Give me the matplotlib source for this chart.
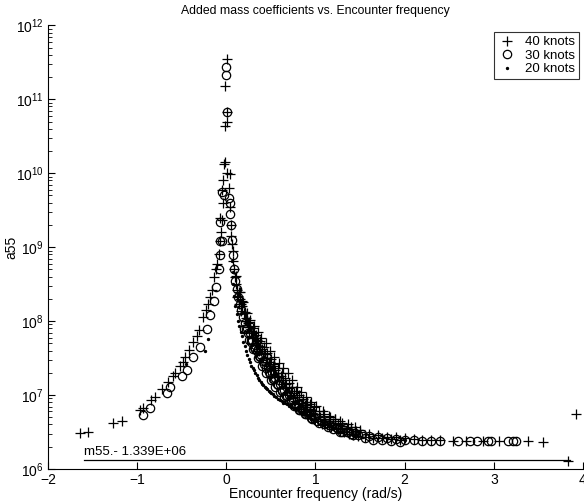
import matplotlib
matplotlib.use("Agg")
import matplotlib.pyplot as plt
from matplotlib.ticker import LogLocator, FixedLocator, NullFormatter

plt.rcParams['font.family'] = ['Liberation Sans', 'DejaVu Sans']
plt.rcParams['mathtext.fontset'] = 'custom'
plt.rcParams['mathtext.rm'] = 'Liberation Sans'
plt.rcParams['mathtext.it'] = 'Liberation Sans:italic'

title = "Added mass coefficients vs. Encounter frequency"
xlabel = "Encounter frequency (rad/s)"
ylabel = "a55"
series_labels = ["40 knots", "30 knots", "20 knots"]
m55_value = 1.339e6
m55_label = "m55.- 1.339E+06"
m55_x = [-1.6, 3.85]

# 40 knots (+)
x40 = [-1.64, -1.55, -1.27, -1.17, -0.97, -0.94, -0.85, -0.80, -0.72, -0.65, -0.60,
       -0.57, -0.52, -0.49, -0.46, -0.42, -0.37, -0.33, -0.31, -0.26, -0.23, -0.20,
       -0.18, -0.16, -0.135, -0.12, -0.105, -0.087, -0.067, -0.06, -0.049, -0.04, -0.03,
       0.005, -0.01, 0.005, -0.01, 0.005, -0.02, 0.005, 0.045, -0.037, -0.05, -0.07,
       0.03, 0.04, 0.05, 0.055, 0.06, 0.07, 0.08, 0.09, 0.10, 0.11, 0.12, 0.135, 0.15,
       0.165, 0.18, 0.20, 0.22, 0.24, 0.26, 0.28, 0.30, 0.32, 0.34, 0.36, 0.38, 0.40,
       0.43, 0.46, 0.49, 0.52, 0.55, 0.58, 0.61, 0.64, 0.67, 0.70, 0.73, 0.76, 0.79,
       0.82, 0.85, 0.88, 0.91, 0.94, 0.97, 1.00, 1.05, 1.10, 1.15, 1.20, 1.25, 1.30,
       1.35, 1.40, 1.45, 1.50, 1.60, 1.70, 1.80, 1.90, 2.00, 2.10, 2.20, 2.30, 2.40,
       2.54, 2.69, 2.88, 3.06, 3.38, 3.55, 3.83, 3.92,
       0.15, 0.19, 0.23, 0.27, 0.31, 0.35, 0.39, 0.44, 0.49, 0.54, 0.59, 0.64, 0.69,
       0.74, 0.79, 0.84, 0.89, 0.95, 1.01, 1.08, 1.15, 1.22, 1.30, 1.40, 1.50,
       0.125, 0.145, 0.17, 0.21, 0.25, 0.29, 0.33, 0.37, 0.415, 0.445, 0.475, 0.505,
       0.535, 0.565, 0.595, 0.625, 0.655, 0.685, 0.715, 0.745, 0.775, 0.805, 0.835,
       0.865, 0.895, 0.925, 0.955, 0.985, 1.025, 1.075, 1.125, 1.175, 1.225, 1.275,
       1.325, 1.375, 1.425, 1.475, 1.55, 1.65, 1.75, 1.85, 1.95,
       0.105, 0.14, 0.175, 0.215, 0.255, 0.295, 0.335, 0.375, 0.42, 0.46, 0.50, 0.54,
       0.58, 0.62, 0.66, 0.70, 0.74, 0.78, 0.82, 0.86, 0.90, 0.94, 0.98, 1.04, 1.10,
       1.16, 1.22, 1.28, 1.36, 1.44]
y40 = [3.1e6, 3.2e6, 4.2e6, 4.5e6, 6.2e6, 6.6e6, 8.5e6, 9.5e6, 1.2e7, 1.5e7, 1.8e7,
       2.0e7, 2.5e7, 2.8e7, 3.3e7, 4.1e7, 5.2e7, 6.3e7, 7.6e7, 1.15e8, 1.4e8, 1.7e8,
       2.1e8, 2.6e8, 4.0e8, 5.0e8, 6.0e8, 8.1e8, 1.2e9, 1.6e9, 2.3e9, 4.0e9, 1.35e10,
       3.5e11, 1.5e11, 4.9e10, 4.4e10, 6.8e10, 1.4e10, 1.0e10, 9.8e9, 8.1e9, 5.9e9, 2.5e9,
       6.3e9, 3.5e9, 2.0e9, 1.4e9, 1.1e9, 8.9e8, 6.6e8, 5.0e8, 4.0e8, 3.2e8, 2.6e8, 2.2e8, 2.0e8,
       1.7e8, 1.6e8, 1.3e8, 1.1e8, 9.5e7, 8.3e7, 7.4e7, 6.8e7, 6.0e7, 5.5e7, 5.0e7, 4.6e7, 4.2e7,
       3.6e7, 3.2e7, 2.8e7, 2.5e7, 2.2e7, 2.0e7, 1.8e7, 1.6e7, 1.4e7, 1.26e7, 1.15e7, 1.05e7, 9.5e6,
       8.7e6, 7.9e6, 7.4e6, 6.9e6, 6.5e6, 6.0e6, 5.6e6, 5.1e6, 4.8e6, 4.5e6, 4.2e6, 4.0e6, 3.8e6,
       3.6e6, 3.5e6, 3.3e6, 3.2e6, 3.0e6, 2.9e6, 2.75e6, 2.7e6, 2.6e6, 2.55e6, 2.5e6, 2.45e6, 2.45e6,
       2.4e6, 2.4e6, 2.4e6, 2.4e6, 2.4e6, 2.3e6, 1.3e6, 5.5e6,
       2.5e8, 1.8e8, 1.3e8, 1.05e8, 8.5e7, 7.1e7, 6.0e7, 5.0e7, 4.0e7, 3.3e7, 2.75e7, 2.3e7, 2.0e7,
       1.6e7, 1.3e7, 1.1e7, 9.5e6, 8.1e6, 7.1e6, 6.0e6, 5.2e6, 4.7e6, 4.2e6, 3.7e6, 3.4e6,
       2.1e8, 1.7e8, 1.37e8, 1.0e8, 7.4e7, 5.9e7, 4.8e7, 4.0e7, 3.2e7, 2.8e7, 2.5e7, 2.2e7,
       1.95e7, 1.75e7, 1.58e7, 1.41e7, 1.25e7, 1.1e7, 1.0e7, 9.1e6, 8.3e6, 7.6e6, 6.9e6,
       6.4e6, 5.9e6, 5.6e6, 5.2e6, 4.8e6, 4.5e6, 4.1e6, 3.9e6, 3.65e6, 3.45e6, 3.3e6,
       3.15e6, 3.0e6, 2.9e6, 2.8e6, 2.75e6, 2.65e6, 2.6e6, 2.55e6, 2.5e6,
       4.1e8, 2.5e8, 1.86e8, 1.32e8, 9.8e7, 8.0e7, 6.4e7, 5.4e7, 4.4e7, 3.7e7, 3.1e7, 2.65e7,
       2.3e7, 2.0e7, 1.7e7, 1.45e7, 1.29e7, 1.13e7, 1.0e7, 8.9e6, 8.1e6, 7.5e6, 6.8e6, 6.0e6, 5.5e6,
       5.1e6, 4.7e6, 4.4e6, 4.0e6, 3.7e6]

# 30 knots (o)
x30 = [-0.93, -0.86, -0.67, -0.63, -0.50, -0.44, -0.37, -0.29, -0.217, -0.18, -0.14,
       -0.12, -0.087, -0.067, -0.049, -0.067, -0.067, -0.05,
       0.0, 0.0, 0.005, -0.03, 0.026,
       0.04, 0.045, 0.05, 0.06, 0.07, 0.085, 0.10, 0.115, 0.13, 0.15, 0.17, 0.19, 0.21,
       0.23, 0.26, 0.29, 0.32, 0.35, 0.39, 0.43, 0.47, 0.51, 0.55, 0.60, 0.65, 0.70,
       0.75, 0.80, 0.85, 0.90, 0.95, 1.00, 1.06, 1.12, 1.18, 1.24, 1.30, 1.37, 1.44,
       1.52, 1.60, 1.70, 1.80, 1.90, 2.00, 2.10, 2.20, 2.30, 2.40, 2.60, 2.73, 2.81,
       2.93, 2.97, 3.16, 3.21, 3.25,
       0.20, 0.25, 0.30, 0.35, 0.40, 0.45, 0.50, 0.55, 0.60, 0.65, 0.70, 0.76, 0.82,
       0.88, 0.95, 1.02, 1.10, 1.20, 1.30, 1.40,
       0.22, 0.275, 0.325, 0.375, 0.425, 0.475, 0.525, 0.575, 0.625, 0.675, 0.725,
       0.785, 0.85, 0.915, 0.985, 1.06, 1.15, 1.25, 1.35, 1.48,
       0.24, 0.28, 0.31, 0.34, 0.37, 0.41, 0.45, 0.49, 0.53, 0.57, 0.62, 0.67, 0.72,
       0.77, 0.83, 0.89, 0.96, 1.04, 1.14, 1.27, 1.42, 1.56, 1.65, 1.75, 1.85, 1.95]
y30 = [5.4e6, 6.6e6, 1.05e7, 1.3e7, 1.8e7, 2.2e7, 3.3e7, 4.5e7, 7.9e7, 1.2e8, 1.9e8,
       2.9e8, 5.1e8, 7.8e8, 1.2e9, 1.2e9, 2.2e9, 5.6e9,
       2.75e11, 2.1e11, 6.8e10, 5.0e9, 4.6e9,
       4.0e9, 2.8e9, 2.0e9, 1.26e9, 7.9e8, 5.0e8, 3.5e8, 2.7e8, 2.1e8, 1.7e8, 1.4e8, 1.15e8, 9.5e7,
       8.1e7, 6.8e7, 5.6e7, 4.8e7, 4.2e7, 3.5e7, 2.9e7, 2.4e7, 2.0e7, 1.7e7, 1.4e7, 1.17e7, 1.0e7,
       8.7e6, 7.6e6, 6.8e6, 6.0e6, 5.5e6, 5.0e6, 4.6e6, 4.2e6, 3.9e6, 3.6e6, 3.5e6, 3.2e6, 3.1e6,
       2.95e6, 2.8e6, 2.7e6, 2.6e6, 2.55e6, 2.5e6, 2.45e6, 2.42e6, 2.4e6, 2.4e6, 2.4e6, 2.4e6, 2.4e6,
       2.4e6, 2.4e6, 2.4e6, 2.4e6, 2.4e6,
       7.9e7, 5.6e7, 4.2e7, 3.2e7, 2.5e7, 2.0e7, 1.6e7, 1.3e7, 1.1e7, 9.5e6, 8.3e6, 7.1e6, 6.2e6,
       5.5e6, 4.9e6, 4.4e6, 4.0e6, 3.5e6, 3.2e6, 3.0e6,
       7.8e7, 5.5e7, 4.2e7, 3.3e7, 2.6e7, 2.05e7, 1.65e7, 1.37e7, 1.14e7, 9.8e6, 8.5e6,
       7.2e6, 6.3e6, 5.55e6, 4.85e6, 4.4e6, 3.9e6, 3.45e6, 3.2e6, 2.9e6,
       6.9e7, 5.3e7, 4.5e7, 3.9e7, 3.4e7, 2.85e7, 2.35e7, 1.95e7, 1.65e7, 1.4e7, 1.16e7, 9.8e6,
       8.5e6, 7.3e6, 6.3e6, 5.5e6, 4.8e6, 4.2e6, 3.65e6, 3.2e6, 2.85e6, 2.6e6, 2.5e6, 2.45e6,
       2.4e6, 2.35e6]

# 20 knots (.)
x20 = [-0.20, -0.236, -0.45,
       0.06, 0.07, 0.08, 0.09,
       0.10, 0.115, 0.13, 0.145, 0.16, 0.175, 0.19, 0.205, 0.22, 0.235, 0.25, 0.265,
       0.28, 0.295, 0.31, 0.325, 0.34, 0.355, 0.37, 0.385, 0.40, 0.415, 0.43, 0.445,
       0.46, 0.475, 0.49, 0.505, 0.52, 0.54, 0.56, 0.58, 0.60, 0.62, 0.64, 0.66, 0.68,
       0.70, 0.72, 0.74, 0.76, 0.78, 0.80, 0.83, 0.86, 0.89, 0.92, 0.95, 1.00,
       1.10, 1.20, 1.30, 1.45, 1.60, 1.80, 2.00]
y20 = [5.8e7, 3.9e7, 2.6e7,
       6.5e8, 4.6e8, 3.2e8, 2.2e8,
       1.6e8, 1.25e8, 1.0e8, 8.5e7, 7.2e7, 6.2e7, 5.3e7, 4.6e7, 4.0e7, 3.5e7, 3.1e7, 2.8e7,
       2.5e7, 2.3e7, 2.15e7, 2.0e7, 1.85e7, 1.72e7, 1.62e7, 1.52e7, 1.43e7, 1.36e7, 1.3e7, 1.24e7,
       1.19e7, 1.15e7, 1.11e7, 1.07e7, 1.03e7, 9.8e6, 9.3e6, 8.9e6, 8.5e6, 8.2e6, 7.9e6, 7.7e6, 7.5e6,
       7.2e6, 7.0e6, 6.8e6, 6.6e6, 6.4e6, 6.2e6, 5.9e6, 5.6e6, 5.3e6, 5.0e6, 4.8e6, 4.5e6,
       3.9e6, 3.5e6, 3.2e6, 2.9e6, 2.75e6, 2.6e6, 2.5e6]

fig = plt.figure(figsize=(5.84, 5.03), dpi=100)
ax = fig.add_axes([0.0822, 0.0676, 0.916, 0.882])

ax.plot(x40, y40, linestyle='none', marker='+', color='black', markersize=7,
        markeredgewidth=0.9, label=series_labels[0])
ax.plot(x30, y30, linestyle='none', marker='o', color='black', markerfacecolor='none',
        markersize=6, markeredgewidth=0.9, label=series_labels[1])
ax.plot(x20, y20, linestyle='none', marker='.', color='black', markersize=2.8,
        label=series_labels[2])

ax.plot(m55_x, [m55_value, m55_value], color='black', linewidth=0.9)
ax.text(m55_x[0], m55_value * 1.04, m55_label, fontsize=9.5, ha='left', va='bottom')

ax.set_yscale('log')
ax.set_xlim(-2, 4)
ax.set_ylim(1e6, 1e12)
ax.xaxis.set_major_locator(FixedLocator([-2, -1, 0, 1, 2, 3, 4]))
ax.yaxis.set_major_locator(LogLocator(base=10, numticks=20))
ax.yaxis.set_minor_locator(LogLocator(base=10, subs=range(2, 10), numticks=20))
ax.yaxis.set_minor_formatter(NullFormatter())

for s in ['top', 'right']:
    ax.spines[s].set_visible(False)
ax.tick_params(axis='both', which='major', direction='in', length=5, width=0.8,
               labelsize=10, pad=3)
ax.tick_params(axis='y', which='minor', direction='in', length=3, width=0.6)

ax.set_title(title, fontsize=8.8, pad=8)
ax.set_xlabel(xlabel, fontsize=10, labelpad=0)
ax.xaxis.set_label_coords(0.5, -0.04)
ax.set_ylabel(ylabel, fontsize=10)
ax.yaxis.set_label_coords(-0.055, 0.5)

leg = ax.legend(loc='upper right', bbox_to_anchor=(0.993, 0.985), fontsize=9.5,
                frameon=True, fancybox=False, shadow=False, borderpad=0.3,
                labelspacing=0.1, handletextpad=0.6, handlelength=1.5,
                borderaxespad=0.0)
leg.get_frame().set_edgecolor('black')
leg.get_frame().set_linewidth(0.8)

fig.savefig('out.png', dpi=100)
